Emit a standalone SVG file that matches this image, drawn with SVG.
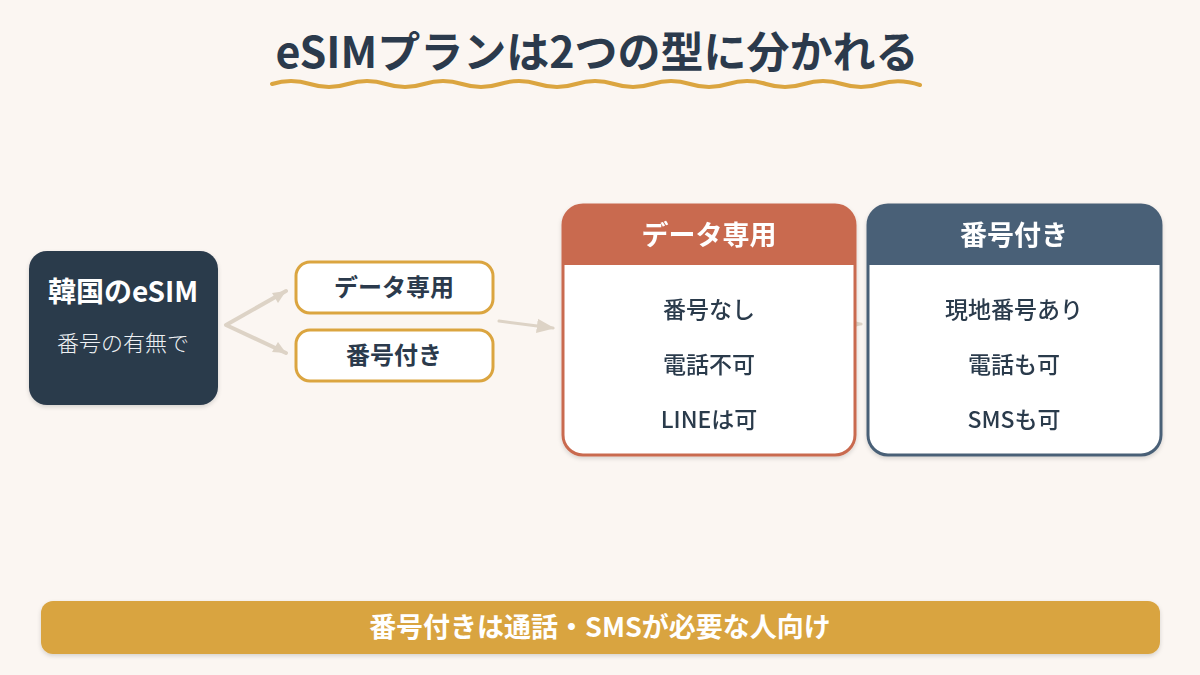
<svg xmlns="http://www.w3.org/2000/svg" width="1200" height="675" viewBox="0 0 1200 675">
<defs>
<style>
text{font-family:"Noto Sans CJK JP","Noto Sans",sans-serif;text-anchor:middle}
.title{font-size:43px;font-weight:600;fill:#2b3a4c}
.conn{stroke:#ddd3c6;fill:none;stroke-linecap:round}
.pill{fill:#fff;stroke:#dba540;stroke-width:3}
.pilltxt{font-size:24px;font-weight:700;fill:#2b3a4c}
.item{font-size:23px;font-weight:500;fill:#2b3a4c}
.head{font-size:27px;font-weight:700;fill:#fff}
</style>
<marker id="ah2" viewBox="0 0 10 10" refX="9" refY="5" markerWidth="6" markerHeight="6" orient="auto" markerUnits="strokeWidth">
<path d="M0,1 L10,5 L0,9 z" fill="#ddd3c6"/>
</marker>
<filter id="sh" x="-10%" y="-10%" width="120%" height="130%">
<feDropShadow dx="0" dy="2" stdDeviation="2" flood-color="#000" flood-opacity="0.15"/>
</filter>
</defs>
<rect width="1200" height="675" fill="#fbf6f2"/>

<g id="title">
<text class="title" x="597" y="68">eSIMプランは2つの型に分かれる</text>
<path d="M272,84 Q291,78 310,84 T348,84 T386,84 T424,84 T462,84 T500,84 T538,84 T576,84 T614,84 T652,84 T690,84 T728,84 T766,84 T804,84 T842,84 T880,84 T920,85" fill="none" stroke="#dba540" stroke-width="4" stroke-linecap="round"/>
</g>

<g id="connectors">
<polyline class="conn" points="286,291 226,325 286,353" stroke-width="4" stroke-linejoin="round"/>
<path d="M286,291 l-14,2 l6,10 z" fill="#ddd3c6"/>
<path d="M286,353 l-8,-11 l-6,10 z" fill="#ddd3c6"/>
<line class="conn" x1="499" y1="321" x2="553" y2="328" stroke-width="3" marker-end="url(#ah2)"/>
<line class="conn" x1="852" y1="324" x2="861" y2="324" stroke-width="3" marker-end="url(#ah2)"/>
</g>

<g id="root">
<rect x="29" y="251" width="189" height="154" rx="18" fill="#2a3a4c" filter="url(#sh)"/>
<text x="123" y="302" font-size="28" font-weight="700" fill="#fff">韓国のeSIM</text>
<text x="123" y="351" font-size="22" font-weight="300" fill="#eef1f4">番号の有無で</text>
</g>

<g id="pill-data">
<rect class="pill" x="296" y="262" width="197" height="51" rx="14"/>
<text class="pilltxt" x="394" y="296">データ専用</text>
</g>
<g id="pill-number">
<rect class="pill" x="296" y="330" width="197" height="51" rx="14"/>
<text class="pilltxt" x="394" y="364">番号付き</text>
</g>

<g id="card-data" filter="url(#sh)">
<rect x="563" y="205" width="292" height="250" rx="20" fill="#fff" stroke="#c96a50" stroke-width="3"/>
<path d="M563,265 V225 A20,20 0 0 1 583,205 H835 A20,20 0 0 1 855,225 V265 Z" fill="#c96a50"/>
<text class="head" x="709" y="245">データ専用</text>
<text class="item" x="709" y="318">番号なし</text>
<text class="item" x="709" y="373">電話不可</text>
<text class="item" x="709" y="428">LINEは可</text>
</g>

<g id="card-number" filter="url(#sh)">
<rect x="868" y="205" width="293" height="250" rx="20" fill="#fff" stroke="#4a6077" stroke-width="3"/>
<path d="M868,265 V225 A20,20 0 0 1 888,205 H1141 A20,20 0 0 1 1161,225 V265 Z" fill="#4a6077"/>
<text class="head" x="1014" y="245">番号付き</text>
<text class="item" x="1014" y="318">現地番号あり</text>
<text class="item" x="1014" y="373">電話も可</text>
<text class="item" x="1014" y="428">SMSも可</text>
</g>

<g id="banner">
<rect x="41" y="601" width="1119" height="53" rx="12" fill="#d9a441" filter="url(#sh)"/>
<text x="600" y="637" font-size="27" font-weight="600" fill="#fff">番号付きは通話・SMSが必要な人向け</text>
</g>
</svg>
